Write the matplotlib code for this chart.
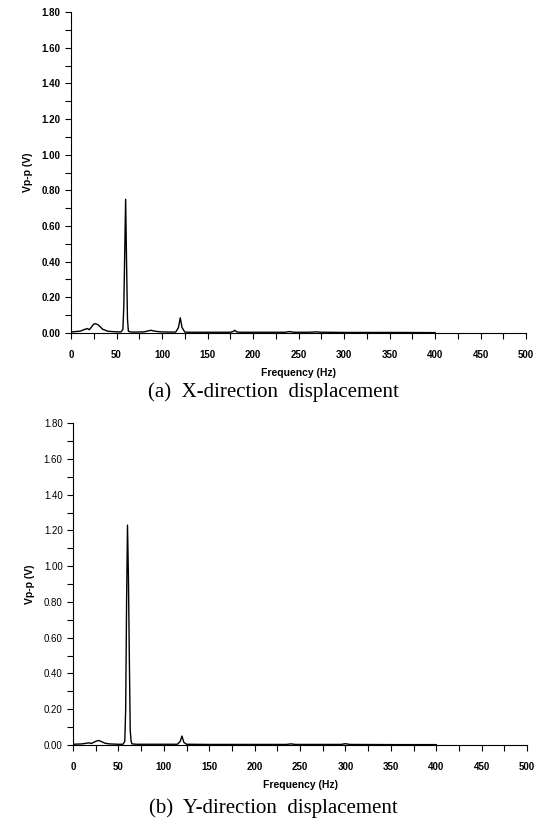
import numpy as np
import matplotlib
matplotlib.use("Agg")
from matplotlib import pyplot as plt
from matplotlib.ticker import MultipleLocator, FormatStrFormatter

# X-direction spectrum (Hz, Vp-p)
freq_x = [0, 5, 10, 15, 18, 20, 22, 25, 27, 30, 33, 35, 38, 40, 45, 50, 55, 57,
          58, 59, 60, 61, 62, 63, 65, 70, 80, 85, 88, 90, 95, 100, 110, 115, 118,
          120, 122, 125, 130, 150, 175, 178, 180, 182, 185, 200, 235, 240, 245,
          260, 270, 275, 280, 300, 350, 400]
vpp_x = [0.005, 0.008, 0.01, 0.02, 0.025, 0.018, 0.03, 0.05, 0.052, 0.045, 0.03,
         0.02, 0.015, 0.01, 0.008, 0.006, 0.006, 0.02, 0.15, 0.45, 0.75, 0.40,
         0.08, 0.01, 0.006, 0.005, 0.006, 0.012, 0.015, 0.012, 0.008, 0.006,
         0.005, 0.005, 0.03, 0.085, 0.03, 0.005, 0.004, 0.004, 0.004, 0.008,
         0.015, 0.006, 0.004, 0.004, 0.004, 0.008, 0.004, 0.004, 0.006, 0.004,
         0.004, 0.003, 0.003, 0.002]

# Y-direction spectrum (Hz, Vp-p)
freq_y = [0, 5, 10, 15, 18, 20, 25, 28, 30, 33, 35, 40, 45, 50, 55, 57, 58, 59,
          60, 61, 62, 63, 64, 65, 70, 80, 100, 115, 118, 120, 122, 125, 150,
          200, 235, 240, 245, 280, 295, 300, 305, 350, 400]
vpp_y = [0.004, 0.005, 0.006, 0.01, 0.012, 0.008, 0.02, 0.025, 0.022, 0.015,
         0.01, 0.006, 0.005, 0.004, 0.004, 0.02, 0.2, 0.8, 1.23, 0.95, 0.5,
         0.08, 0.02, 0.006, 0.004, 0.004, 0.004, 0.004, 0.02, 0.05, 0.015,
         0.004, 0.003, 0.003, 0.003, 0.006, 0.003, 0.003, 0.003, 0.007, 0.003,
         0.002, 0.002]

captions = ["(a)  X-direction  displacement", "(b)  Y-direction  displacement"]

fig = plt.figure(figsize=(5.38, 8.25), dpi=100)
ax1 = fig.add_axes([0.132, 0.5964, 0.846, 0.389])
ax2 = fig.add_axes([0.1357, 0.097, 0.844, 0.390])

for i, (ax, f, v) in enumerate([(ax1, freq_x, vpp_x), (ax2, freq_y, vpp_y)]):
    ax.plot(f, v, color="black", lw=1.0)
    ax.set_xlim(0, 500)
    ax.set_ylim(0, 1.8)
    ax.spines["top"].set_visible(False)
    ax.spines["right"].set_visible(False)
    ax.xaxis.set_major_locator(MultipleLocator(50))
    ax.xaxis.set_minor_locator(MultipleLocator(25))
    ax.yaxis.set_major_locator(MultipleLocator(0.2))
    ax.yaxis.set_minor_locator(MultipleLocator(0.1))
    ax.yaxis.set_major_formatter(FormatStrFormatter("%.2f"))
    ax.tick_params(which="both", direction="out", length=4, width=0.8,
                   labelsize=7)
    ax.tick_params(axis="x", pad=8)
    for lab in ax.get_xticklabels():
        lab.set_fontweight("bold")
        lab.set_family("Liberation Sans")
    for lab in ax.get_yticklabels():
        # lower panel's y labels are printed lighter
        lab.set_fontweight("bold" if i == 0 else "normal")
        lab.set_family("Liberation Sans")
    ax.set_xlabel("Frequency (Hz)", fontsize=7.5, fontweight="bold",
                  family="Liberation Sans", labelpad=6)
    ax.set_ylabel("Vp-p (V)", fontsize=7.5, fontweight="bold",
                  family="Liberation Sans", labelpad=6)

fig.text(0.508, 1 - 392 / 825, captions[0], ha="center", va="center",
         fontsize=15, family="Liberation Serif")
fig.text(0.508, 1 - 808 / 825, captions[1], ha="center", va="center",
         fontsize=15, family="Liberation Serif")

fig.savefig("out.png", dpi=100)
